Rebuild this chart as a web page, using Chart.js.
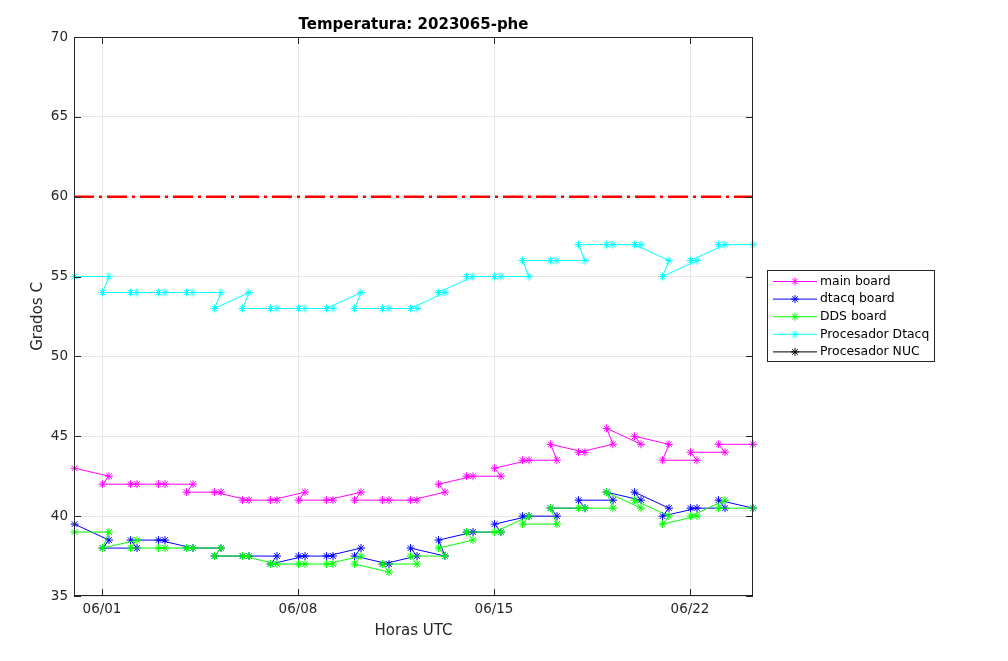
<!DOCTYPE html>
<html>
<head>
<meta charset="utf-8">
<script src="https://cdn.jsdelivr.net/npm/chart.js@4"></script>
<style>
  body { margin: 0; background: #ffffff; }
  canvas { display: block; }
</style>
</head>
<body>
<canvas id="tempChart" width="1008" height="661"></canvas>
<script>
// days since 05/31 00:00 UTC, in the order the samples were logged
var times = [0.02,
  1.25, 1.02, 2.25, 2.02, 3.25, 3.02, 4.25, 4.02, 5.25, 5.02,
  6.25, 6.02, 7.25, 7.02, 8.25, 8.02, 9.25, 9.02, 10.25, 10.02,
  11.25, 11.02, 12.25, 12.02, 13.25, 13.02, 14.25, 14.02, 15.25, 15.02,
  16.25, 16.02, 17.25, 17.02, 18.25, 18.02, 19.25, 19.02, 20.25, 20.02,
  21.25, 21.02, 22.25, 22.02, 23.25, 23.02,
  24.25];

var mainBoard = [43,
  42.5, 42, 42, 42, 42, 42, 42, 41.5, 41.5, 41.5,
  41, 41, 41, 41, 41.5, 41, 41, 41, 41.5, 41,
  41, 41, 41, 41, 41.5, 42, 42.5, 42.5, 42.5, 43,
  43.5, 43.5, 43.5, 44.5, 44, 44, 44.5, 45.5, 44.5, 45,
  44.5, 43.5, 43.5, 44, 44, 44.5,
  44.5];

var dtacqBoard = [39.5,
  38.5, 38, 38, 38.5, 38.5, 38.5, 38, 38, 38, 37.5,
  37.5, 37.5, 37.5, 37, 37.5, 37.5, 37.5, 37.5, 38, 37.5,
  37, 37, 37.5, 38, 37.5, 38.5, 39, 39, 39, 39.5,
  40, 40, 40, 40.5, 40.5, 41, 41, 41.5, 41, 41.5,
  40.5, 40, 40.5, 40.5, 40.5, 41,
  40.5];

var ddsBoard = [39,
  39, 38, 38.5, 38, 38, 38, 38, 38, 38, 37.5,
  37.5, 37.5, 37, 37, 37, 37, 37, 37, 37.5, 37,
  36.5, 37, 37, 37.5, 37.5, 38, 38.5, 39, 39, 39,
  40, 39.5, 39.5, 40.5, 40.5, 40.5, 40.5, 41.5, 40.5, 41,
  40, 39.5, 40, 40, 41, 40.5,
  40.5];

var procDtacq = [55,
  55, 54, 54, 54, 54, 54, 54, 54, 54, 53,
  54, 53, 53, 53, 53, 53, 53, 53, 54, 53,
  53, 53, 53, 53, 54, 54, 55, 55, 55, 55,
  55, 56, 56, 56, 56, 57, 57, 57, 57, 57,
  56, 55, 56, 56, 57, 57,
  57];

var procNuc = [];

var limitTemp = 60;
var xRange = [0, 24.25];
var yRange = [35, 70];

var tickDays = [1, 8, 15, 22];
var tickLabels = ['06/01', '06/08', '06/15', '06/22'];

var seriesNames = ['main board', 'dtacq board', 'DDS board', 'Procesador Dtacq', 'Procesador NUC'];
var seriesColors = ['#ff00ff', '#0000ff', '#00ff00', '#00ffff', '#000000'];
var seriesValues = [mainBoard, dtacqBoard, ddsBoard, procDtacq, procNuc];

function toPoints(vals) {
  return vals.map(function (v, i) { return { x: times[i], y: v }; });
}

var datasets = seriesNames.map(function (name, i) {
  return {
    label: name,
    data: toPoints(seriesValues[i]),
    borderColor: seriesColors[i],
    backgroundColor: seriesColors[i],
    borderWidth: 1,
    pointStyle: 'star',
    pointRadius: 4,
    pointBorderWidth: 1,
    pointBorderColor: seriesColors[i],
    tension: 0,
    clip: false,
    order: 10 - i
  };
});

datasets.push({
  label: 'limite',
  data: [{ x: xRange[0], y: limitTemp }, { x: xRange[1], y: limitTemp }],
  borderColor: '#ff0000',
  borderWidth: 2.6,
  borderDash: [20, 5, 3, 5],
  pointRadius: 0,
  order: 0
});

var AXIS = '#262626';
var FONT = 'DejaVu Sans';

// box, inward ticks, titles and the boxed legend, drawn like the original figure
var decor = {
  id: 'decor',
  afterDraw: function (chart) {
    var c = chart.ctx, a = chart.chartArea;
    var xs = chart.scales.x, ys = chart.scales.y;
    c.save();
    c.strokeStyle = AXIS;
    c.lineWidth = 1;
    c.strokeRect(a.left + 0.5, a.top + 0.5, a.right - a.left - 1, a.bottom - a.top - 1);
    c.beginPath();
    tickDays.forEach(function (d) {
      var px = Math.round(xs.getPixelForValue(d)) + 0.5;
      c.moveTo(px, a.bottom); c.lineTo(px, a.bottom - 7);
      c.moveTo(px, a.top); c.lineTo(px, a.top + 7);
    });
    for (var v = yRange[0]; v <= yRange[1]; v += 5) {
      var py = Math.round(ys.getPixelForValue(v)) + 0.5;
      c.moveTo(a.left, py); c.lineTo(a.left + 7, py);
      c.moveTo(a.right, py); c.lineTo(a.right - 7, py);
    }
    c.stroke();

    c.fillStyle = '#000000';
    c.textAlign = 'center';
    c.textBaseline = 'middle';
    c.font = 'bold 15px "' + FONT + '"';
    c.fillText('Temperatura: 2023065-phe', (a.left + a.right) / 2, 25);

    c.fillStyle = AXIS;
    c.font = '15px "' + FONT + '"';
    c.fillText('Horas UTC', (a.left + a.right) / 2, 631);
    c.save();
    c.translate(38, (a.top + a.bottom) / 2);
    c.rotate(-Math.PI / 2);
    c.fillText('Grados C', 0, 0);
    c.restore();

    // legend
    var lx = 767, ly = 270, lw = 167, lh = 91;
    c.fillStyle = '#ffffff';
    c.fillRect(lx, ly, lw, lh);
    c.strokeStyle = AXIS;
    c.strokeRect(lx + 0.5, ly + 0.5, lw, lh);
    c.font = '12.4px "' + FONT + '"';
    c.textAlign = 'left';
    seriesNames.forEach(function (name, i) {
      var ry = 281.5 + i * 17.6;
      c.strokeStyle = seriesColors[i];
      c.lineWidth = 1;
      c.beginPath();
      c.moveTo(773, ry); c.lineTo(817, ry);
      c.stroke();
      Chart.helpers.drawPoint(c, { pointStyle: 'star', radius: 4, borderWidth: 1 }, 795, ry);
      c.fillStyle = '#000000';
      c.fillText(name, 820, ry);
    });
    c.restore();
  }
};

var ctx = document.getElementById('tempChart').getContext('2d');
var chart = new Chart(ctx, {
  type: 'line',
  data: { datasets: datasets },
  options: {
    responsive: false,
    animation: false,
    devicePixelRatio: 1,
    layout: { padding: { top: 37, right: 255, left: 0, bottom: 0 } },
    plugins: {
      legend: { display: false },
      title: { display: false },
      tooltip: { enabled: false }
    },
    scales: {
      x: {
        type: 'linear',
        min: xRange[0],
        max: xRange[1],
        afterFit: function (s) { s.height = 65; },
        afterBuildTicks: function (s) {
          s.ticks = tickDays.map(function (d) { return { value: d }; });
        },
        ticks: {
          padding: 5,
          maxRotation: 0,
          autoSkip: false,
          color: AXIS,
          font: { family: FONT, size: 13.5 },
          callback: function (v) {
            var k = tickDays.indexOf(v);
            return k >= 0 ? tickLabels[k] : '';
          }
        },
        grid: { color: '#e6e6e6', lineWidth: 1, drawTicks: false },
        border: { display: false }
      },
      y: {
        min: yRange[0],
        max: yRange[1],
        afterFit: function (s) { s.width = 74; },
        ticks: {
          stepSize: 5,
          padding: 6,
          color: AXIS,
          font: { family: FONT, size: 13.5 }
        },
        grid: { color: '#e6e6e6', lineWidth: 1, drawTicks: false },
        border: { display: false }
      }
    }
  },
  plugins: [decor]
});
</script>
</body>
</html>
